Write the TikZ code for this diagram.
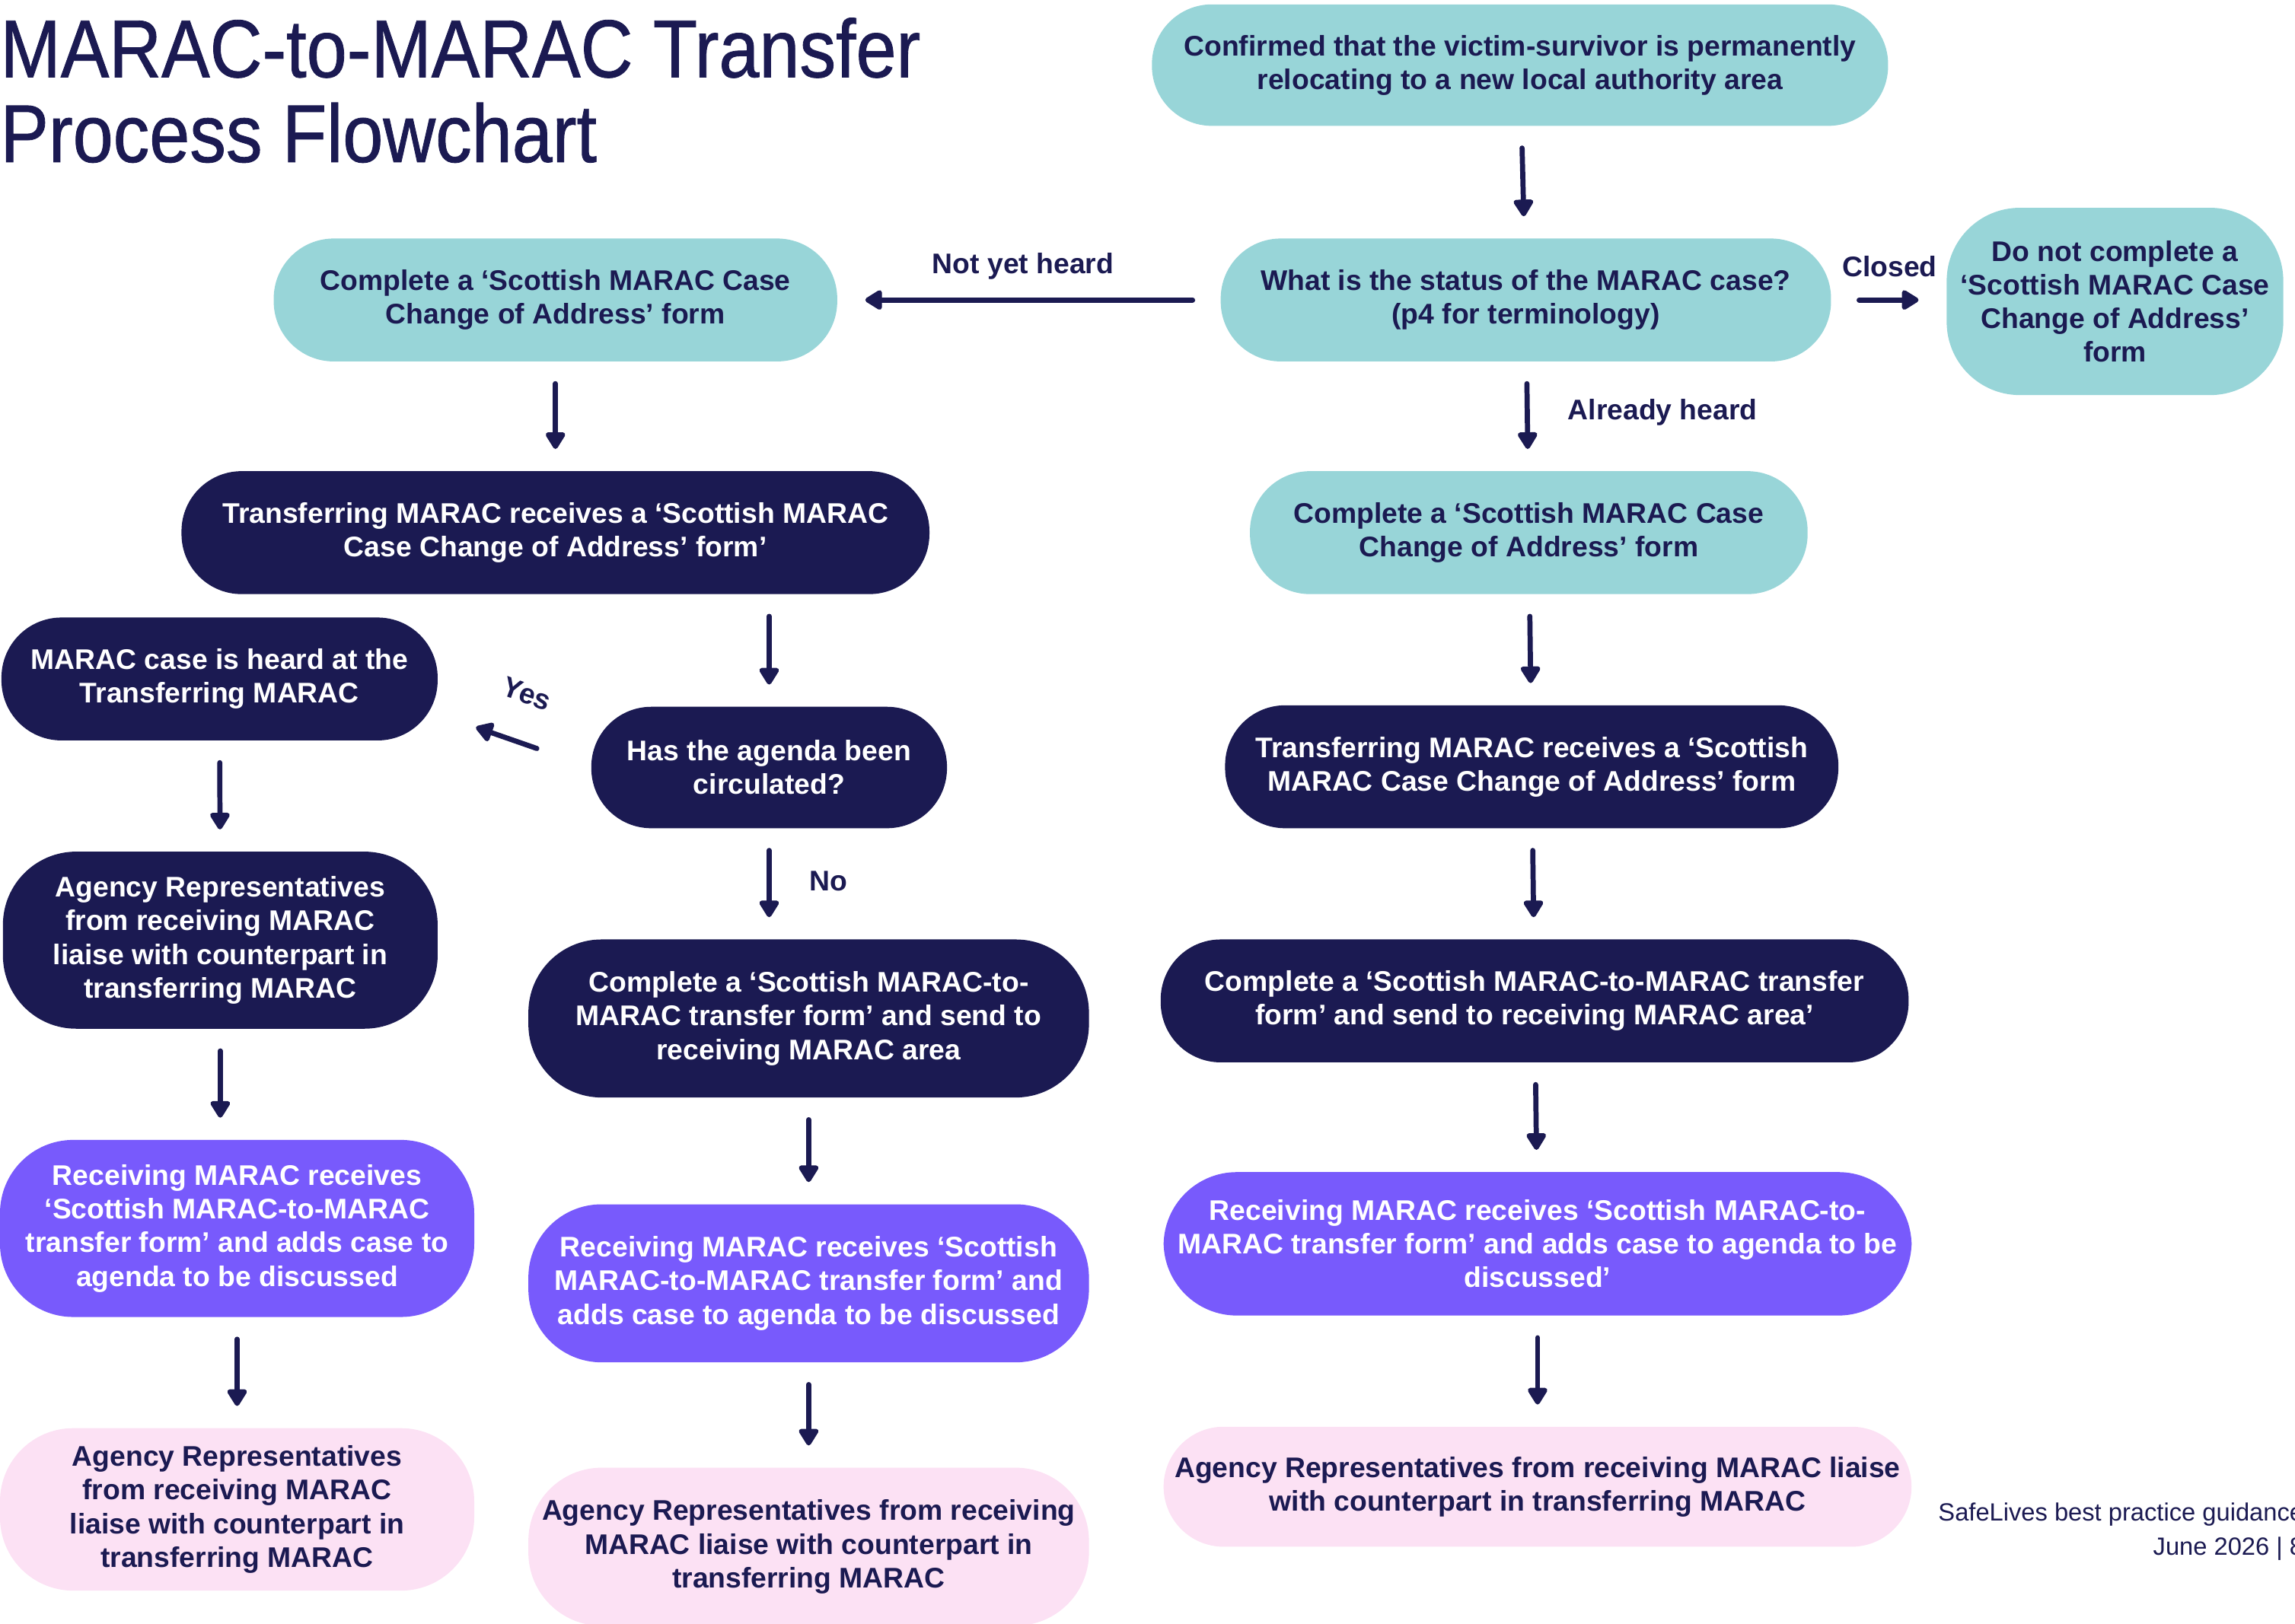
\documentclass[tikz,border=0pt]{standalone}
\usepackage{fontspec}
\setmainfont{Liberation Sans}
\newfontfamily\titlefont[FakeStretch=0.885,FakeBold=0.8]{Liberation Sans}
\usetikzlibrary{calc,arrows.meta}
\definecolor{navy}{HTML}{1B1A52}
\definecolor{tealc}{HTML}{98D5D8}
\definecolor{purpc}{HTML}{785AFC}
\definecolor{pinkc}{HTML}{FCE1F4}
\tikzset{
  box/.style={rounded corners=41pt, inner sep=0pt, align=center,
    font=\bfseries\fontsize{19.4}{23}\selectfont},
  tall/.style={rounded corners=50pt},
  tealbox/.style={box, fill=tealc, text=navy},
  darkbox/.style={box, fill=navy, text=white},
  purpbox/.style={box, fill=purpc, text=white},
  pinkbox/.style={box, fill=pinkc, text=navy},
  arr/.style={draw=navy, line width=3.5pt, line cap=round,
    -{Triangle[length=13pt,width=15pt,round]}, shorten <=15pt, shorten >=15pt},
  harr/.style={arr, shorten <=19pt, shorten >=19pt},
  lbl/.style={text=navy, font=\bfseries\fontsize{19.4}{23}\selectfont, inner sep=0pt}
}
\begin{document}
\begin{tikzpicture}[x=1pt,y=-1pt]
\useasboundingbox (0,0) rectangle (1568,1109.8);

% title
\node[anchor=north west, inner sep=0pt, align=left, text=navy,
  font=\titlefont\fontsize{56}{58}\selectfont] (title) at (0,12)
  {MARAC-to-MARAC Transfer\\Process Flowchart};

% right / top column
\node[tealbox, minimum width=503pt, minimum height=83pt] (n1) at (1038.5,44.5)
  {Confirmed that the victim-survivor is permanently\\relocating to a new local authority area};
\node[tealbox, minimum width=417pt, minimum height=84pt] (n2) at (1042.5,205)
  {What is the status of the MARAC case?\\(p4 for terminology)};
\node[tealbox, tall, minimum width=230pt, minimum height=128pt] (n3) at (1445,206)
  {Do not complete a\\‘Scottish MARAC Case\\Change of Address’\\form};
\node[tealbox, minimum width=381pt, minimum height=84pt] (n14) at (1044.5,364)
  {Complete a ‘Scottish MARAC Case\\Change of Address’ form};
\node[darkbox, minimum width=419pt, minimum height=84pt] (n15) at (1046.5,524)
  {Transferring MARAC receives a ‘Scottish\\MARAC Case Change of Address’ form};
\node[darkbox, minimum width=511pt, minimum height=84pt] (n16) at (1048.5,684)
  {Complete a ‘Scottish MARAC-to-MARAC transfer\\form’ and send to receiving MARAC area’};
\node[purpbox, tall, minimum width=511pt, minimum height=98pt] (n17) at (1050.5,850)
  {Receiving MARAC receives ‘Scottish MARAC-to-\\MARAC transfer form’ and adds case to agenda to be\\discussed’};
\node[pinkbox, minimum width=511pt, minimum height=82pt] (n18) at (1050.5,1016)
  {Agency Representatives from receiving MARAC liaise\\with counterpart in transferring MARAC};

% left branch
\node[tealbox, minimum width=385pt, minimum height=84pt] (n4) at (379.5,205)
  {Complete a ‘Scottish MARAC Case\\Change of Address’ form};
\node[darkbox, minimum width=511pt, minimum height=84pt] (n5) at (379.5,364)
  {Transferring MARAC receives a ‘Scottish MARAC\\Case Change of Address’ form’};
\node[darkbox, minimum width=298pt, minimum height=84pt] (n6) at (150,464)
  {MARAC case is heard at the\\Transferring MARAC};
\node[darkbox, minimum width=243pt, minimum height=83pt] (n7) at (525.5,524.5)
  {Has the agenda been\\circulated?};
\node[darkbox, tall, minimum width=297pt, minimum height=121pt] (n8) at (150.5,642.5)
  {Agency Representatives\\from receiving MARAC\\liaise with counterpart in\\transferring MARAC};
\node[darkbox, tall, minimum width=383pt, minimum height=108pt] (n9) at (552.5,696)
  {Complete a ‘Scottish MARAC-to-\\MARAC transfer form’ and send to\\receiving MARAC area};
\node[purpbox, tall, minimum width=324pt, minimum height=121pt] (n10) at (162,839.5)
  {Receiving MARAC receives\\‘Scottish MARAC-to-MARAC\\transfer form’ and adds case to\\agenda to be discussed};
\node[purpbox, tall, minimum width=383pt, minimum height=108pt] (n11) at (552.5,877)
  {Receiving MARAC receives ‘Scottish\\MARAC-to-MARAC transfer form’ and\\adds case to agenda to be discussed};
\node[pinkbox, tall, minimum width=324pt, minimum height=111pt] (n12) at (162,1031.5)
  {Agency Representatives\\from receiving MARAC\\liaise with counterpart in\\transferring MARAC};
\node[pinkbox, tall, minimum width=383pt, minimum height=108pt] (n13) at (552.5,1057)
  {Agency Representatives from receiving\\MARAC liaise with counterpart in\\transferring MARAC};

% footer
\node[anchor=north east, inner sep=0pt, align=right, text=navy,
  font=\fontsize{17}{23}\selectfont] (foot) at (1574,1027)
  {SafeLives best practice guidance\\June 2026 | 8};

% arrows
\draw[arr] (n1) -- (n2);
\draw[harr] (n2.west) -- (n2.west -| n4.east);
\draw[harr] (n2.east) -- (n2.east -| n3.west);
\draw[arr] (n2) -- (n14);
\draw[arr] (n14) -- (n15);
\draw[arr] (n15) -- (n16);
\draw[arr] (n16) -- (n17);
\draw[arr] (n17) -- (n18);
\draw[arr] (n4) -- (n5);
\draw[arr] (n5.south -| n7.north) -- (n7.north);
\draw[arr, shorten <=0pt, shorten >=0pt] ($(n7.west)+(-37,-13)$) -- ($(n6.east)+(26,33)$);
\draw[arr] (n7.south) -- (n7.south |- n9.north);
\draw[arr] (n6) -- (n8);
\draw[arr] (n8.south) -- (n8.south |- n10.north);
\draw[arr] (n10) -- (n12);
\draw[arr] (n9) -- (n11);
\draw[arr] (n11) -- (n13);

% labels
\node[lbl] (lnyh) at (699,182) {Not yet heard};
\node[lbl] (lcl) at (1291,182) {Closed};
\node[lbl, anchor=west] (lah) at (1071,282) {Already heard};
\node[lbl, anchor=west] (lno) at (553,602) {No};
\node[lbl, rotate=-20] (lyes) at (360,474) {Yes};
\end{tikzpicture}
\end{document}
